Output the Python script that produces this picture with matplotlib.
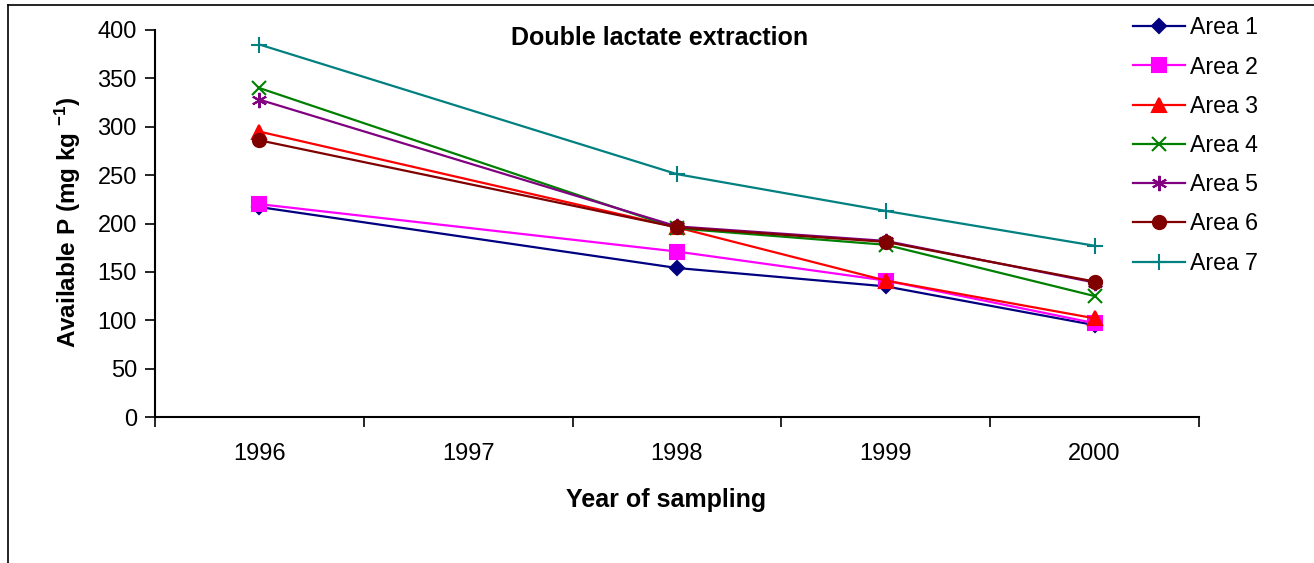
import numpy as np
import matplotlib
matplotlib.use('Agg')
import matplotlib.pyplot as plt
from matplotlib.lines import Line2D

plt.rcParams['font.family'] = ['Liberation Sans', 'DejaVu Sans']
plt.rcParams['mathtext.fontset'] = 'custom'
plt.rcParams['mathtext.rm'] = 'Liberation Sans:bold'
plt.rcParams['mathtext.default'] = 'regular'

# data
categories = ['1996', '1997', '1998', '1999', '2000']
years = ['1996', '1998', '1999', '2000']
area1 = [217, 154, 135, 95]
area2 = [220, 171, 141, 97]
area3 = [295, 196, 141, 102]
area4 = [340, 195, 178, 125]
area5 = [328, 197, 182, 139]
area6 = [286, 196, 181, 140]
area7 = [385, 251, 213, 177]
labels = ['Area 1', 'Area 2', 'Area 3', 'Area 4', 'Area 5', 'Area 6', 'Area 7']

series = [area1, area2, area3, area4, area5, area6, area7]
colors = ['#000080', '#FF00FF', '#FF0000', '#008000', '#800080', '#800000', '#008080']
markers = ['D', 's', '^', 'x', (6, 2, 0), 'o', '+']
msizes = [7.5, 9.5, 9.5, 10, 11, 9.5, 12]

W, H = 1314, 563
fig = plt.figure(figsize=(W / 100, H / 100), dpi=100)
ax = fig.add_axes([155 / W, 1 - 417 / H, (1199 - 155) / W, (417 - 30) / H])

xpos = [categories.index(y) for y in years]
for vals, c, m, ms, lab in zip(series, colors, markers, msizes, labels):
    ax.plot(xpos, vals, color=c, marker=m, markersize=ms, lw=1.6,
            markeredgewidth=1.5, label=lab)

ax.set_xlim(-0.5, len(categories) - 0.5)
ax.set_ylim(0, 400)
ax.set_yticks(np.arange(0, 401, 50))
ax.set_xticks(np.arange(-0.5, len(categories), 1.0))
ax.set_xticklabels([])
ax.set_xticks(np.arange(len(categories)), minor=True)
ax.set_xticklabels(categories, minor=True)
ax.tick_params(axis='x', which='minor', length=0, pad=19, labelsize=17)
ax.tick_params(axis='x', which='major', length=7, width=1.2, direction='out')
ax.tick_params(axis='y', length=7, width=1.2, direction='out', pad=6, labelsize=17)
for s in ['top', 'right']:
    ax.spines[s].set_visible(False)
for s in ['left', 'bottom']:
    ax.spines[s].set_linewidth(1.5)

fig.text(660 / W, 1 - 38 / H, 'Double lactate extraction', fontsize=18,
         fontweight='bold', ha='center', va='center')
fig.text(666 / W, 1 - 500 / H, 'Year of sampling', fontsize=18,
         fontweight='bold', ha='center', va='center')
fig.text(68 / W, 1 - 222 / H, r'Available P (mg kg $^{-1}$)', fontsize=17.5,
         fontweight='bold', rotation=90, ha='center', va='center')

fig.legend(loc='upper left', bbox_to_anchor=(1124 / W, 1 - 7 / H), frameon=False,
           fontsize=16.7, handlelength=2.24, handletextpad=0.22, labelspacing=0.70,
           borderaxespad=0)

# outer chart frame (cropped on the right and bottom)
fig.add_artist(Line2D([8 / W, 8 / W], [0, 1 - 5 / H], color='black', lw=1.2))
fig.add_artist(Line2D([8 / W, 1], [1 - 5 / H, 1 - 5 / H], color='black', lw=1.2))

fig.savefig('out.png', dpi=100)
